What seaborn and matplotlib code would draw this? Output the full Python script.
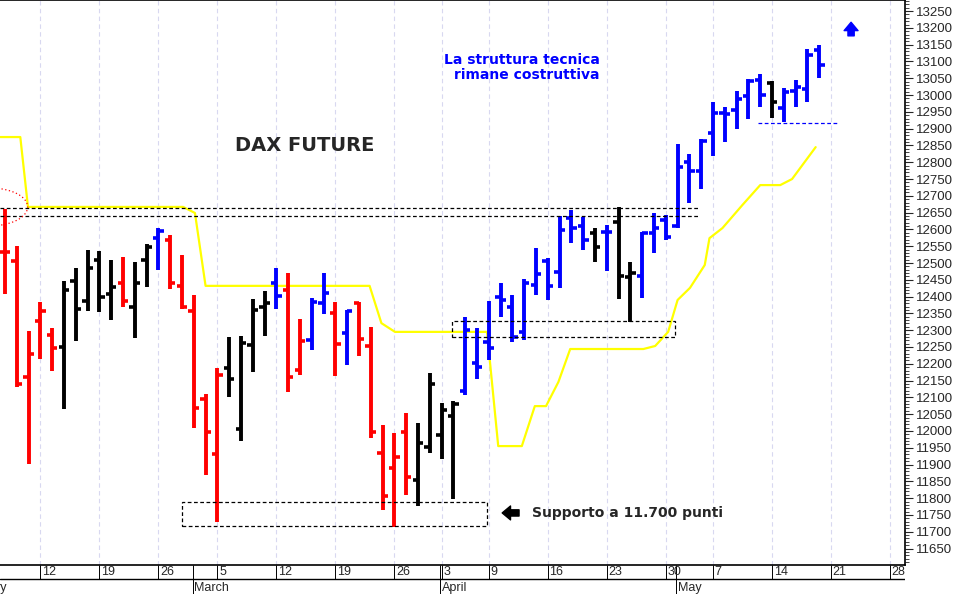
import numpy as np
import matplotlib
matplotlib.use("Agg")
import matplotlib.pyplot as plt
from matplotlib.patches import Ellipse, Rectangle
import seaborn as sns

# OHLC per trading day, index 0 = Feb 7 2018
opens = [12533, 12506, 12161, 12327, 12286, 12250, 12446, 12387, 12509, 12408,
         12441, 12369, 12509, 12574, 12569, 12432, 12357, 12095, 11932, 12188,
         12006, 12256, 12369, 12441, 12420, 12182, 12271, 12381, 12351, 12292,
         12381, 12253, 11935, 11890, 11997, 11854, 11952, 11988, 12045, 12119,
         12202, 12265, 12399, 12369, 12295, 12435, 12506, 12473, 12634, 12610,
         12589, 12592, 12622, 12458, 12461, 12589, 12628, 12610, 12800, 12774,
         12887, 12946, 12955, 12997, 13045, 13036, 12961, 13012, 13018, 13134]
highs = [12660, 12551, 12298, 12384, 12307, 12446, 12485, 12539, 12536, 12509,
         12518, 12503, 12557, 12604, 12583, 12524, 12405, 12110, 12188, 12280,
         12283, 12393, 12417, 12485, 12470, 12333, 12396, 12470, 12384, 12360,
         12384, 12310, 12018, 11994, 12054, 12024, 12173, 12083, 12089, 12339,
         12307, 12387, 12441, 12405, 12452, 12545, 12515, 12640, 12658, 12637,
         12604, 12613, 12667, 12503, 12592, 12649, 12643, 12854, 12824, 12869,
         12979, 12964, 13012, 13048, 13062, 13042, 13021, 13045, 13137, 13149]
lows = [12408, 12131, 11902, 12214, 12179, 12065, 12268, 12357, 12354, 12330,
        12369, 12277, 12429, 12479, 12423, 12363, 12009, 11869, 11729, 12101,
        11970, 12176, 12283, 12363, 12116, 12167, 12241, 12348, 12164, 12197,
        12223, 11979, 11765, 11714, 11810, 11777, 11935, 11917, 11798, 12107,
        12155, 12211, 12339, 12265, 12271, 12405, 12390, 12426, 12560, 12539,
        12503, 12476, 12393, 12324, 12396, 12530, 12568, 12604, 12679, 12720,
        12818, 12860, 12899, 12929, 12964, 12932, 12920, 12964, 12979, 13051]
closes = [12533, 12140, 12229, 12357, 12247, 12420, 12363, 12485, 12399, 12429,
          12387, 12441, 12548, 12595, 12441, 12369, 12069, 11997, 12167, 12155,
          12262, 12360, 12381, 12402, 12161, 12268, 12384, 12411, 12259, 12357,
          12274, 11997, 11807, 11923, 11863, 11964, 12140, 12063, 12080, 12300,
          12191, 12247, 12390, 12280, 12441, 12467, 12432, 12598, 12604, 12568,
          12548, 12592, 12461, 12470, 12589, 12604, 12577, 12786, 12774, 12863,
          12946, 12943, 12988, 13042, 13000, 12979, 13009, 13024, 13119, 13089]
bar_colors = list("rrrrrkkkkkrkkbrrrrrkkkkbrrbbrbrrrrrkkkkbbbbbbbbbbbkbkkbbbbbbbbbbbkbbbb")

# trailing yellow line (day index, value)
yellow_x = [-0.4, 1.3, 1.95, 15.1, 16.1, 17.0, 30.9, 31.9, 33.05, 40.85, 41.8, 43.8,
            44.9, 45.85, 46.9, 47.9, 54.1, 55.1, 56.2, 57.0, 58.05, 59.3, 59.7,
            60.8, 62.5, 64.0, 65.7, 66.7, 68.7]
yellow_y = [12875, 12875, 12667, 12667, 12649, 12432, 12432, 12321, 12295, 12295,
            11955, 11955, 12074, 12074, 12146, 12244, 12244, 12253, 12295, 12390,
            12426, 12494, 12574, 12604, 12673, 12732, 12732, 12750, 12845]

week_ticks = [3, 8, 13, 18, 23, 28, 33, 37, 41, 46, 51, 56, 60, 65, 70, 75]
week_labels = ["12", "19", "26", "5", "12", "19", "26", "3", "9", "16", "23", "30",
               "7", "14", "21", "28"]
month_starts = [16, 37, 57]
month_labels = ["March", "April", "May"]

sns.set_style("white")
plt.rcParams['font.family'] = ['Liberation Sans Narrow', 'Liberation Sans', 'DejaVu Sans']

fig = plt.figure(figsize=(9.54, 5.94), dpi=100)
ax = fig.add_axes([0, 29 / 594, 905 / 954, 565 / 594])
axb = fig.add_axes([0, 0, 905 / 954, 29 / 594], sharex=ax)

xmin, xmax = -0.42, 76.27
ax.set_xlim(xmin, xmax)
ax.set_ylim(11601, 13283)

for w in week_ticks:
    ax.axvline(w, color="#d8d8f0", lw=0.8, ls=(0, (4, 3)), zorder=0)

cmap = {"r": "#ff0000", "k": "#000000", "b": "#0000ff"}
x = np.arange(len(opens))
cols = [cmap[c] for c in bar_colors]
ax.vlines(x, lows, highs, colors=cols, lw=2.8, zorder=3)
ax.hlines(opens, x - 0.45, x, colors=cols, lw=2.6, zorder=3)
ax.hlines(closes, x, x + 0.45, colors=cols, lw=2.6, zorder=3)

sns.lineplot(x=yellow_x, y=yellow_y, ax=ax, color="#ffff00", lw=1.6, sort=False, zorder=2)

# dashed levels and boxes
dash = (0, (3, 2))
ax.hlines([12664, 12640], xmin, 58.9, colors="black", lw=0.9, ls=dash, zorder=4)
ax.add_patch(Rectangle((37.9, 12280), 18.9, 47, fill=False, ec="black", lw=0.9, ls=dash, zorder=4))
ax.add_patch(Rectangle((15.0, 11717), 25.85, 72, fill=False, ec="black", lw=0.9, ls=dash, zorder=4))
ax.hlines(12917, 63.8, 70.6, colors="#0000ff", lw=0.9, ls=dash, zorder=4)
ax.add_patch(Ellipse((-1.27, 12667), 6.4, 113, fill=False, ec="#ff0000", lw=0.9, ls=(0, (1, 2)), zorder=4))

ax.text(25.4, 12851, "DAX FUTURE", fontsize=14, fontweight="bold", ha="center", va="center",
        family=["DejaVu Sans"])
ax.text(50.4, 13083, "La struttura tecnica\nrimane costruttiva", fontsize=10, fontweight="bold",
        color="#0000ff", ha="right", va="center", multialignment="right", linespacing=1.1,
        family=["DejaVu Sans"])
ax.text(44.7, 11756, "Supporto a 11.700 punti", fontsize=10, fontweight="bold", ha="left",
        va="center", family=["DejaVu Sans"])
ax.annotate("", xy=(41.9, 11756), xytext=(43.8, 11756),
            arrowprops=dict(arrowstyle="simple,head_width=1.0,head_length=0.6,tail_width=0.45",
                            color="black"))
ax.annotate("", xy=(71.7, 13225), xytext=(71.7, 13168),
            arrowprops=dict(arrowstyle="simple,head_width=1.0,head_length=0.6,tail_width=0.45",
                            color="#0000ff"))

# right price axis
ax.yaxis.tick_right()
ax.set_yticks(np.arange(11650, 13251, 50))
ax.set_yticks(np.arange(11610, 13281, 10), minor=True)
ax.tick_params(axis="y", which="major", direction="out", length=6, width=0.8, labelsize=9.5,
               right=True, left=False, pad=2)
ax.tick_params(axis="y", which="minor", direction="out", length=3, width=0.6, right=True, left=False)
ax.tick_params(axis="x", bottom=False, labelbottom=False)
ax.spines["left"].set_visible(False)
for s in ["right", "top", "bottom"]:
    ax.spines[s].set_color("black")
    ax.spines[s].set_linewidth(1.2)

# bottom date strip
axb.set_ylim(0, 29)
axb.axis("off")
axb.axhline(15.5, color="black", lw=1)
for w, lab in zip(week_ticks, week_labels):
    axb.vlines(w, 15.5, 29, colors="black", lw=0.7)
    axb.text(w + 0.15, 22, lab, fontsize=9, ha="left", va="center")
for m, lab in zip(month_starts, month_labels):
    axb.vlines(m - 0.1, 0, 29, colors="black", lw=0.7)
    axb.text(m + 0.05, 6, lab, fontsize=9, ha="left", va="center")
axb.text(xmin - 0.3, 6, "ry", fontsize=9, ha="left", va="center")

fig.savefig("out.png", dpi=100)
